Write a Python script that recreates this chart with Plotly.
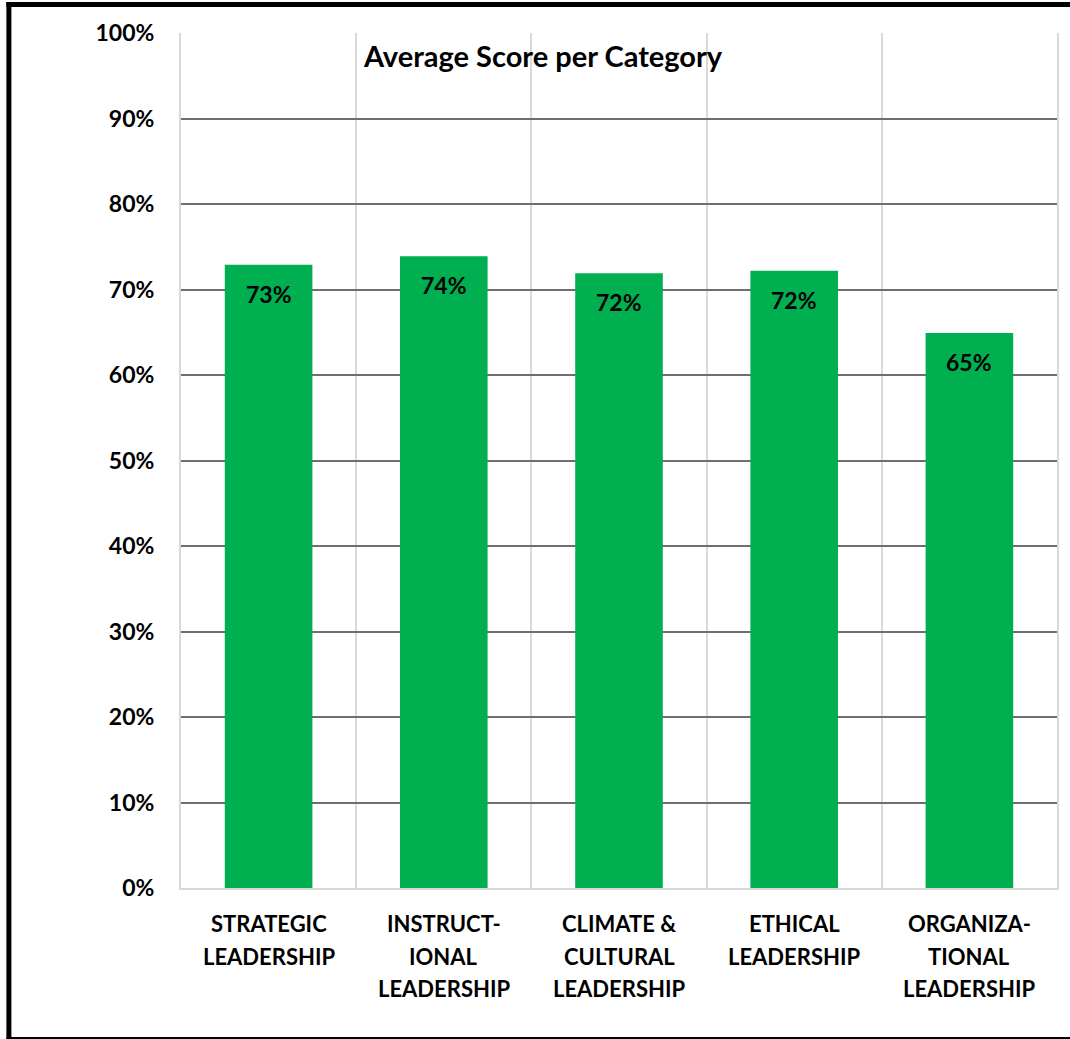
import plotly.graph_objects as go

categories = ["STRATEGIC<br>LEADERSHIP", "INSTRUCT-<br>IONAL<br>LEADERSHIP",
              "CLIMATE &amp;<br>CULTURAL<br>LEADERSHIP", "ETHICAL<br>LEADERSHIP",
              "ORGANIZA-<br>TIONAL<br>LEADERSHIP"]
scores = [0.729, 0.739, 0.719, 0.722, 0.649]
title_text = "Average Score per Category"

W, H = 1070, 1039
L, R, T, B = 181, 1059, 33, 888
FONT = "Lato"

xs = list(range(len(categories)))

fig = go.Figure()
fig.add_trace(go.Bar(x=xs, y=scores, width=0.5, marker=dict(color="#00B050", line=dict(width=0)),
                     hoverinfo="skip"))

# value labels inside the bar tops
for i, v in zip(xs, scores):
    fig.add_annotation(x=i, y=v, xref="x", yref="y", text=f"{v:.0%}", showarrow=False,
                       yanchor="middle", yshift=-29,
                       font=dict(family=FONT, size=23, color="black", weight=700))

# category labels, one annotation per line for Excel-like line spacing
for i, cat in zip(xs, categories):
    for k, line in enumerate(cat.split("<br>")):
        fig.add_annotation(x=i, y=0, xref="x", yref="y", text=line, showarrow=False,
                           yanchor="middle", yshift=-(35.5 + 32.5 * k),
                           font=dict(family=FONT, size=22, color="black", weight=700))

def px_x(p):
    return (p - L) / (R - L)

def px_y(p):
    return (B - p) / (B - T)

shapes = [
    dict(type="line", xref="paper", yref="paper", x0=px_x(8.5), x1=px_x(8.5), y0=px_y(2), y1=px_y(1039),
         line=dict(color="black", width=5)),
    dict(type="line", xref="paper", yref="paper", x0=px_x(6), x1=px_x(1075), y0=px_y(4.5), y1=px_y(4.5),
         line=dict(color="black", width=5)),
    dict(type="line", xref="paper", yref="paper", x0=px_x(6), x1=px_x(1075), y0=px_y(1038), y1=px_y(1038),
         line=dict(color="black", width=2)),
]

fig.update_layout(
    width=W, height=H,
    margin=dict(l=L, r=W - R, t=T, b=H - B, pad=0),
    paper_bgcolor="white", plot_bgcolor="white",
    showlegend=False,
    shapes=shapes,
    title=dict(text=title_text, xref="container", yref="container", x=543 / W, y=1 - 57 / H,
               xanchor="center", yanchor="middle",
               font=dict(family=FONT, size=29, color="black", weight=700)),
    xaxis=dict(
        range=[-0.5, len(categories) - 0.5],
        tickvals=xs, showticklabels=False,
        showgrid=False, zeroline=False,
        showline=True, linecolor="#d9d9d9", linewidth=2,
        ticks="",
        minor=dict(tickvals=[i - 0.5 for i in range(len(categories) + 1)], showgrid=True,
                   gridcolor="#d9d9d9", gridwidth=2, ticks=""),
        fixedrange=True,
    ),
    yaxis=dict(
        range=[0, 1], dtick=0.1, tickformat=".0%",
        showgrid=True, gridcolor="#6e6e6e", gridwidth=2,
        zeroline=False,
        showline=True, mirror=True, linecolor="#d9d9d9", linewidth=2,
        ticks="", ticklabelstandoff=20,
        tickfont=dict(family=FONT, size=23, color="black", weight=700),
        fixedrange=True,
    ),
)

fig.write_html("out.html", config={"displayModeBar": False},
               post_script="document.body.style.margin='0';document.body.style.overflow='hidden';")
